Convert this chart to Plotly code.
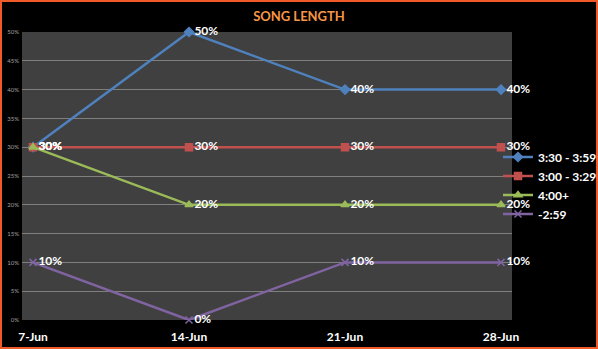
import plotly.graph_objects as go

weeks = ["7-Jun", "14-Jun", "21-Jun", "28-Jun"]
s_330 = [0.30, 0.50, 0.40, 0.40]
s_300 = [0.30, 0.30, 0.30, 0.30]
s_400 = [0.30, 0.20, 0.20, 0.20]
s_259 = [0.10, 0.00, 0.10, 0.10]

series = [
    ("3:30 - 3:59", s_330, "#4F81BD", "diamond"),
    ("3:00 - 3:29", s_300, "#C0504D", "square"),
    ("4:00+", s_400, "#9BBB59", "triangle-up"),
    ("-2:59", s_259, "#8064A2", "x-thin"),
]

W, H = 598, 349
L, R, T, B = 22, 86, 32, 29
pw, ph = W - L - R, H - T - B

fig = go.Figure()
for name, vals, col, sym in series:
    fig.add_trace(go.Scatter(
        x=list(range(len(weeks))), y=vals, name=name, mode="lines+markers+text",
        line=dict(color=col, width=2.5),
        marker=dict(symbol=sym, size=7, color=col, line=dict(color=col, width=1.5)),
        text=[f"{round(v*100)}%" for v in vals], textposition="middle right",
        textfont=dict(color="white", size=12, family="Lato", weight="bold"),
        cliponaxis=False,
    ))

fig.update_layout(
    width=W, height=H,
    margin=dict(l=L, r=R, t=T, b=B, autoexpand=False),
    paper_bgcolor="black", plot_bgcolor="#404040",
    title=dict(text="SONG LENGTH", x=0.5, xref="container", xanchor="center", y=1 - 16 / H, yanchor="middle",
               font=dict(color="#F79646", size=13, family="Lato", weight="bold")),
    showlegend=True,
    legend=dict(x=(498 - L) / pw, xanchor="left", y=1 - (185.5 - T) / ph, yanchor="middle",
                font=dict(color="white", size=12, family="Lato", weight="bold"),
                bgcolor="rgba(0,0,0,0)", itemwidth=30, tracegroupgap=0),
    xaxis=dict(tickmode="array", tickvals=list(range(len(weeks))), ticktext=weeks,
               range=[-11 / 156, 3 + 11 / 156], showgrid=False, zeroline=False,
               tickfont=dict(color="white", size=12, family="Lato", weight="bold"),
               ticks="", ticklabelstandoff=8),
    yaxis=dict(range=[0, 0.5], dtick=0.05, tickformat=".0%", showgrid=True, gridcolor="#7F7F7F",
               gridwidth=1, zeroline=False, tickfont=dict(color="#A0A0A0", size=6, family="Lato"),
               ticks="", ticklabelstandoff=2),
)

fig.add_shape(type="rect", xref="paper", yref="paper",
              x0=(1 - L) / pw, x1=(pw + R - 1) / pw,
              y0=(1 - B) / ph, y1=(ph + T - 1) / ph,
              line=dict(color="#F05A28", width=2), fillcolor="rgba(0,0,0,0)", layer="above")

fig.write_html("out.html")
